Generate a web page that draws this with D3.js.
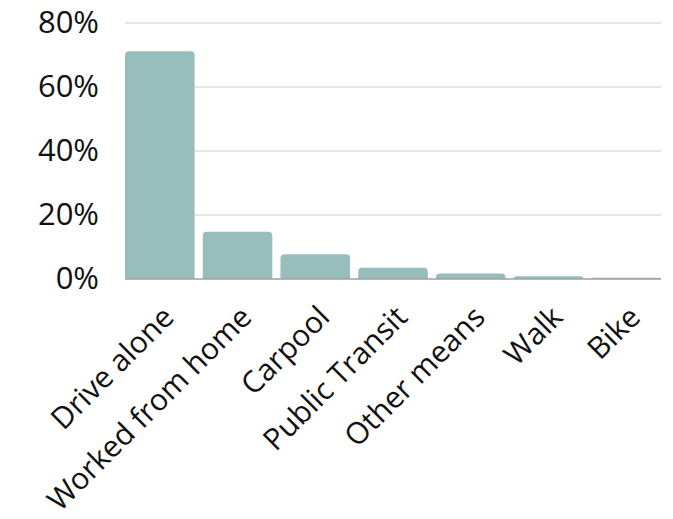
<!DOCTYPE html>
<html>
<head>
<meta charset="utf-8">
<script src="https://cdn.jsdelivr.net/npm/d3@7"></script>
<style>
  body { margin: 0; background: #fff; }
  .ylab text { font-family: "Open Sans", sans-serif; font-size: 31px; fill: #111; }
  .xlab text { font-family: "Open Sans", sans-serif; font-size: 30px; fill: #111; }
</style>
</head>
<body>
<svg id="chart"></svg>
<script>
// commute mode shares
var modes = ['Drive alone', 'Worked from home', 'Carpool', 'Public Transit', 'Other means', 'Walk', 'Bike'];
var shares = [71.2, 14.8, 7.7, 3.5, 1.7, 0.85, 0.4];
var yTicks = [0, 20, 40, 60, 80];

var W = 673, H = 519;
var plotLeft = 125, plotRight = 661, plotTop = 23, base = 279;

var svg = d3.select('#chart').attr('width', W).attr('height', H);

var x = d3.scaleBand()
  .domain(modes)
  .range([plotLeft, plotRight])
  .paddingInner(0.105)
  .paddingOuter(0);

var y = d3.scaleLinear()
  .domain([0, 80])
  .range([base, plotTop]);

// gridlines
svg.append('g')
  .selectAll('line')
  .data(yTicks.filter(d => d > 0))
  .enter()
  .append('line')
  .attr('x1', plotLeft)
  .attr('x2', plotRight)
  .attr('y1', d => y(d))
  .attr('y2', d => y(d))
  .attr('stroke', '#dcdcdc')
  .attr('stroke-width', 1.5);

// y labels
var yAxis = d3.axisLeft(y)
  .tickValues(yTicks)
  .tickFormat(d => d + '%')
  .tickSize(0)
  .tickPadding(26);

var gy = svg.append('g')
  .attr('class', 'ylab')
  .attr('transform', 'translate(' + plotLeft + ',0)')
  .call(yAxis);
gy.select('.domain').remove();
gy.selectAll('text').attr('font-size', null).attr('font-family', null);

// bars, rounded top corners only
function barPath(d, i) {
  var x0 = x(modes[i]), w = x.bandwidth();
  var y0 = y(d), h = base - y0;
  var r = Math.min(4, h, w / 2);
  return 'M' + x0 + ',' + base +
    'V' + (y0 + r) +
    'Q' + x0 + ',' + y0 + ' ' + (x0 + r) + ',' + y0 +
    'H' + (x0 + w - r) +
    'Q' + (x0 + w) + ',' + y0 + ' ' + (x0 + w) + ',' + (y0 + r) +
    'V' + base + 'Z';
}

svg.append('g')
  .selectAll('path')
  .data(shares)
  .enter()
  .append('path')
  .attr('d', barPath)
  .attr('fill', '#97bdbd');

// baseline
svg.append('line')
  .attr('x1', plotLeft)
  .attr('x2', plotRight)
  .attr('y1', base)
  .attr('y2', base)
  .attr('stroke', '#a0a0a0')
  .attr('stroke-width', 1.5);

// x labels, rotated
var xAxis = d3.axisBottom(x).tickSize(0).tickPadding(0);
var gx = svg.append('g')
  .attr('class', 'xlab')
  .attr('transform', 'translate(0,' + base + ')')
  .call(xAxis);
gx.select('.domain').remove();
gx.selectAll('text')
  .attr('font-size', null)
  .attr('font-family', null)
  .attr('text-anchor', 'end')
  .attr('dy', null)
  .attr('y', 0)
  .attr('transform', 'translate(16,40) rotate(-45)');
</script>
</body>
</html>
